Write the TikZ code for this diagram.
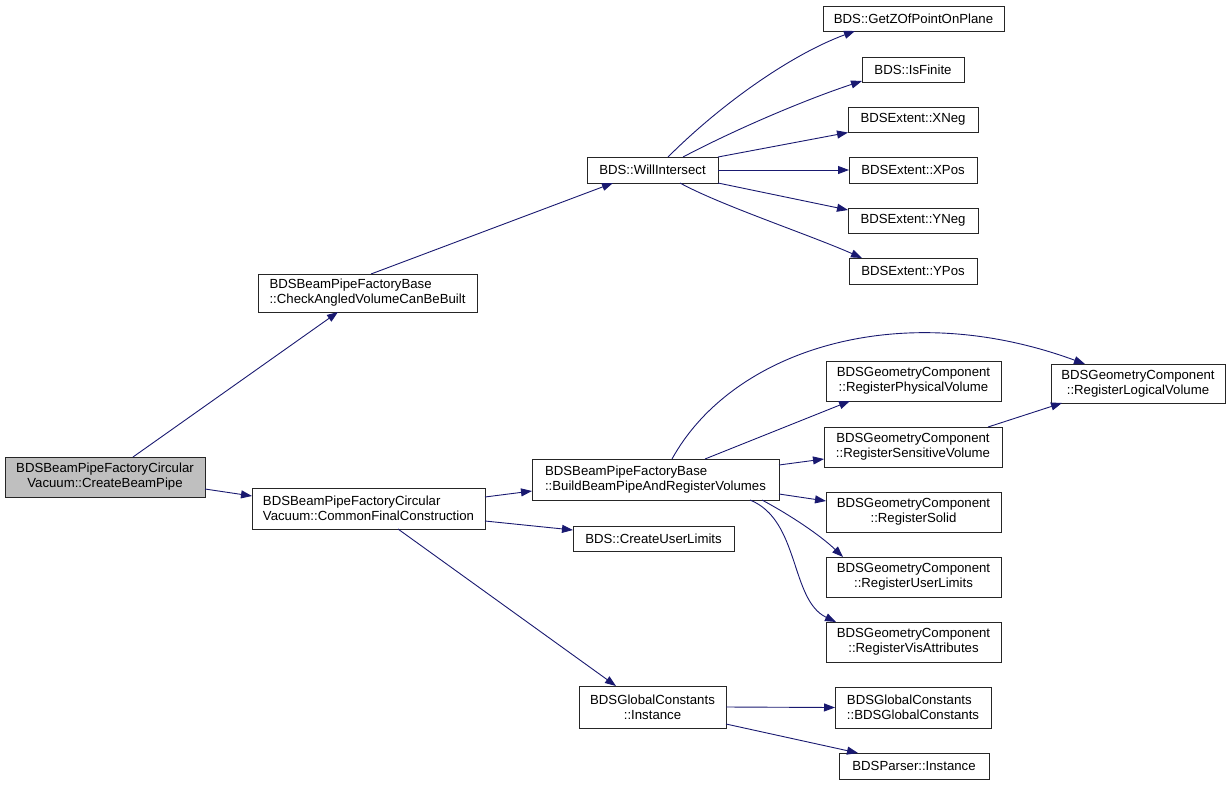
\documentclass[tikz,border=0pt]{standalone}
\usepackage{fontspec}
\setmainfont{Liberation Sans}
\usetikzlibrary{arrows.meta}
\definecolor{edgeblue}{RGB}{25,25,112}
\definecolor{rootgray}{RGB}{191,191,191}
\tikzset{
  box/.style={draw=black!85, line width=1pt, fill=white, inner sep=0pt, outer sep=0pt,
    font=\fontsize{13.2}{15}\selectfont, text=black},
  lbox/.style={box, align=left},
  cbox/.style={box, align=center},
  edge/.style={draw=edgeblue, line width=0.9pt, -{Triangle[length=11pt,width=8pt]}, fill=none},
}
\begin{document}
\begin{tikzpicture}[x=1pt,y=-1pt]
\useasboundingbox (0,0) rectangle (1232,785);
% nodes
\node[cbox, fill=rootgray, minimum width=200pt, minimum height=40pt] (cbp) at (105,477) {BDSBeamPipeFactoryCircular\\Vacuum::CreateBeamPipe};
\node[lbox, minimum width=219pt, minimum height=38pt] (check) at (367.5,293) {BDSBeamPipeFactoryBase\\::CheckAngledVolumeCanBeBuilt};
\node[lbox, minimum width=233pt, minimum height=41pt] (common) at (368.5,508.5) {BDSBeamPipeFactoryCircular\\Vacuum::CommonFinalConstruction};
\node[cbox, minimum width=131pt, minimum height=26pt] (will) at (652.5,170) {BDS::WillIntersect};
\node[cbox, minimum width=181pt, minimum height=25pt] (getz) at (913.5,18.5) {BDS::GetZOfPointOnPlane};
\node[cbox, minimum width=102pt, minimum height=25pt] (isfinite) at (913,69.5) {BDS::IsFinite};
\node[cbox, minimum width=130pt, minimum height=25pt] (xneg) at (913,119.5) {BDSExtent::XNeg};
\node[cbox, minimum width=128pt, minimum height=26pt] (xpos) at (913,170) {BDSExtent::XPos};
\node[cbox, minimum width=130pt, minimum height=25pt] (yneg) at (913,220.5) {BDSExtent::YNeg};
\node[cbox, minimum width=128pt, minimum height=26pt] (ypos) at (913,271) {BDSExtent::YPos};
\node[lbox, minimum width=247pt, minimum height=41pt] (build) at (655.5,479.5) {BDSBeamPipeFactoryBase\\::BuildBeamPipeAndRegisterVolumes};
\node[cbox, minimum width=175pt, minimum height=40pt] (regphys) at (913.5,381) {BDSGeometryComponent\\::RegisterPhysicalVolume};
\node[cbox, minimum width=178pt, minimum height=40pt] (regsens) at (913,447) {BDSGeometryComponent\\::RegisterSensitiveVolume};
\node[cbox, minimum width=175pt, minimum height=40pt] (regsolid) at (913.5,512) {BDSGeometryComponent\\::RegisterSolid};
\node[cbox, minimum width=175pt, minimum height=40pt] (reguser) at (913.5,577) {BDSGeometryComponent\\::RegisterUserLimits};
\node[cbox, minimum width=175pt, minimum height=40pt] (regvis) at (913.5,642) {BDSGeometryComponent\\::RegisterVisAttributes};
\node[cbox, minimum width=174pt, minimum height=39pt] (reglog) at (1138,383.5) {BDSGeometryComponent\\::RegisterLogicalVolume};
\node[cbox, minimum width=161pt, minimum height=25pt] (cul) at (653.5,538.5) {BDS::CreateUserLimits};
\node[cbox, minimum width=147pt, minimum height=42pt] (gcinst) at (652.5,707) {BDSGlobalConstants\\::Instance};
\node[lbox, minimum width=156pt, minimum height=41pt] (gcctor) at (913,707.5) {BDSGlobalConstants\\::BDSGlobalConstants};
\node[cbox, minimum width=150pt, minimum height=26pt] (parser) at (914,766) {BDSParser::Instance};
% edges
\draw[edge] ([xshift=128pt]cbp.north west) -- ([xshift=80pt]check.south west);
\draw[edge] ([yshift=-12pt]cbp.east) -- ([yshift=12.5pt]common.west);
\draw[edge] ([xshift=3.5pt]check.north) -- ([xshift=26pt]will.south west);
\draw[edge] ([xshift=81pt]will.north west) .. controls (720,105) and (790,55) .. ([xshift=32pt]getz.south west);
\draw[edge] ([xshift=96pt]will.north west) .. controls (740,127) and (810,98) .. ([xshift=0pt,yshift=1pt]isfinite.south west);
\draw[edge] (will.north east) -- ([yshift=-0.5pt]xneg.south west);
\draw[edge] (will.east) -- (xpos.west);
\draw[edge] (will.south east) -- ([yshift=10.5pt]yneg.west);
\draw[edge] ([xshift=93pt]will.south west) .. controls (720,205) and (810,235) .. ([xshift=13pt]ypos.north west);
\draw[edge] ([yshift=11.5pt]common.east) -- ([yshift=-11.5pt]build.west);
\draw[edge] ([yshift=-12.5pt]common.east) -- ([yshift=8.5pt]cul.west);
\draw[edge] ([xshift=29.5pt]common.south) -- ([xshift=37pt]gcinst.north west);
\draw[edge] ([xshift=140pt]build.north west) .. controls (732,350) and (900,296) .. ([xshift=34pt]reglog.north west);
\draw[edge] ([xshift=173pt]build.north west) -- ([xshift=24pt]regphys.south west);
\draw[edge] ([yshift=14.5pt]build.east) -- ([yshift=-12pt]regsens.west);
\draw[edge] ([yshift=-14.5pt]build.east) -- ([yshift=11pt]regsolid.west);
\draw[edge] ([xshift=230pt]build.south west) .. controls (790,515) and (820,535) .. ([xshift=17pt]reguser.north west);
\draw[edge] ([xshift=218pt]build.south west) .. controls (800,520) and (790,600) .. ([xshift=10pt]regvis.north west);
\draw[edge] ([xshift=-14pt]regsens.north east) -- ([xshift=11pt]reglog.south west);
\draw[edge] (gcinst.east) -- (gcctor.west);
\draw[edge] ([yshift=4pt]gcinst.south east) -- ([xshift=19pt]parser.north west);
\end{tikzpicture}
\end{document}
